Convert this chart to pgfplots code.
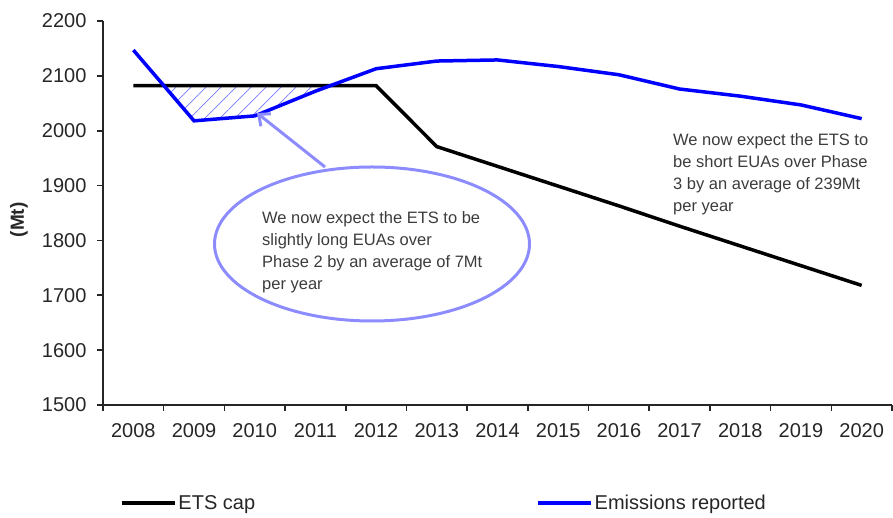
\documentclass[border=0pt]{standalone}
\usepackage{fontspec}
\setmainfont{Liberation Sans}
\usepackage{pgfplots}
\pgfplotsset{compat=1.18}
\usetikzlibrary{patterns.meta,arrows.meta}
\definecolor{annblue}{RGB}{140,140,255}
\definecolor{txtgray}{RGB}{60,60,60}
\definecolor{hatchblue}{RGB}{120,120,255}
\begin{document}
\begin{tikzpicture}
\path[use as bounding box] (-103pt,-113pt) rectangle (790pt,405pt);
\begin{axis}[
  scale only axis, width=789pt, height=384pt,
  xmin=-0.5, xmax=12.5, ymin=1500, ymax=2200,
  axis x line*=bottom, axis y line*=left,
  axis line style={line width=1.6pt, black!85},
  tick align=outside, major tick length=6pt,
  tick style={line width=1.6pt, black!85},
  xtick={-0.5,0.5,...,12.5}, xticklabel=\empty,
  extra x ticks={0,1,2,3,4,5,6,7,8,9,10,11,12},
  extra x tick labels={2008,2009,2010,2011,2012,2013,2014,2015,2016,2017,2018,2019,2020},
  extra x tick style={major tick length=0pt,
     xticklabel style={yshift=-15pt, font=\fontsize{20}{24}\selectfont, text=black!85}},
  ytick={1500,1600,...,2200},
  yticklabel style={font=\fontsize{20}{24}\selectfont, text=black!85, xshift=-7pt},
  /pgf/number format/assume math mode=true, /pgf/number format/1000 sep={},
  ylabel={(Mt)},
  ylabel style={font=\bfseries\fontsize{19}{22}\selectfont, text=black!85,
     at={(axis description cs:-0.1065,0.482)}, anchor=center},
  legend columns=2,
  legend image code/.code={\draw[#1] (0pt,0pt) -- (53pt,0pt);},
  legend style={draw=none, fill=none, at={(axis description cs:0,0)}, anchor=west,
     xshift=17pt, yshift=-98pt, inner sep=0pt, outer sep=0pt,
     nodes={inner sep=2pt, font=\fontsize{20}{24}\selectfont, text=black!85},
     /tikz/every even column/.append style={column sep=279pt}},
]
\addplot[draw=none, pattern={Lines[angle=45,distance=10.6pt,line width=0.7pt]},
  pattern color=hatchblue, forget plot] coordinates {
 (0.5,2082) (1,2018) (2,2027) (3,2072) (3.24,2082) (3,2082) (2,2082) (1,2082)} -- cycle;
\addplot[black, line width=3.5pt] coordinates {
 (0,2082) (1,2082) (2,2082) (3,2082) (4,2082) (5,1971) (6,1935) (7,1899)
 (8,1863) (9,1826) (10,1790) (11,1754) (12,1718)};
\addlegendentry{ETS cap}
\addplot[blue, line width=3.5pt] coordinates {
 (0,2147) (1,2018) (2,2027) (3,2072) (4,2113) (5,2127) (6,2129) (7,2117)
 (8,2102) (9,2076) (10,2063) (11,2047) (12,2022)};
\addlegendentry{Emissions reported}
\end{axis}
\draw[annblue, line width=3pt] (269pt,161pt) ellipse [x radius=157.5pt, y radius=77pt];
\draw[annblue, line width=3pt, -{Straight Barb[length=9pt,width=16pt]}] (222pt,238pt) -- (154pt,292pt);
\node[anchor=base west, inner sep=0pt, align=left, text=txtgray,
  font=\fontsize{16.5}{22.3}\selectfont] at (159pt,115pt)
  {We now expect the ETS to be\\slightly long EUAs over\\Phase 2 by an average of 7Mt\\per year};
\node[anchor=base west, inner sep=0pt, align=left, text=txtgray,
  font=\fontsize{16.5}{22.3}\selectfont] at (570pt,193pt)
  {We now expect the ETS to\\be short EUAs over Phase\\3 by an average of 239Mt\\per year};
\end{tikzpicture}
\end{document}
